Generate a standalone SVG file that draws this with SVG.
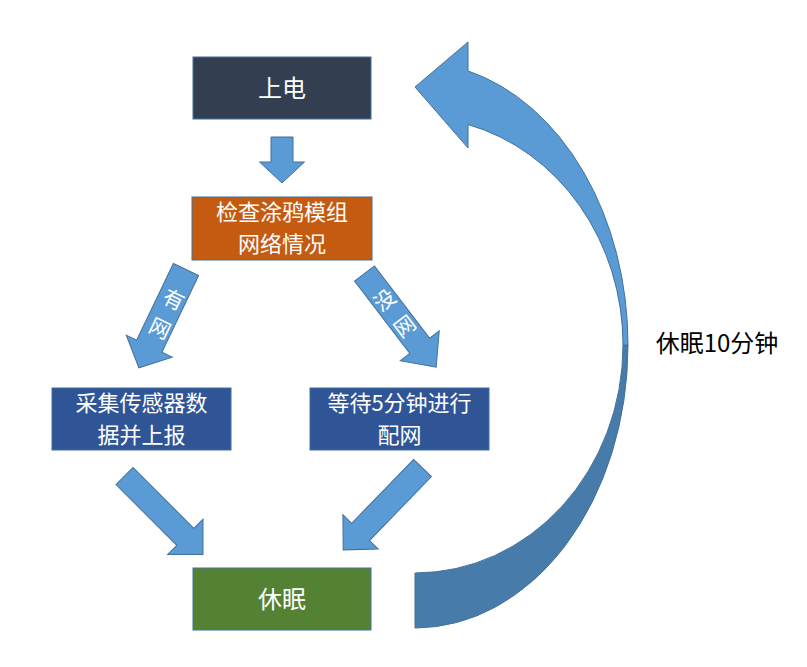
<svg xmlns="http://www.w3.org/2000/svg" width="807" height="667" viewBox="0 0 807 667">
<defs>
<style>
.box{stroke:#41719C;stroke-width:1}
.arr{fill:#5B9BD5;stroke:#41719C;stroke-width:1;stroke-linejoin:miter}
.wt{fill:#ffffff;font-family:"Noto Sans CJK SC","Noto Sans",sans-serif;font-size:24px;text-anchor:middle}
.wt2{fill:#ffffff;font-family:"Noto Sans CJK SC","Noto Sans",sans-serif;font-size:22px;text-anchor:middle}
.lbl{fill:#ffffff;font-family:"Noto Sans CJK SC","Noto Sans",sans-serif;font-size:21px;text-anchor:middle}
.bt{fill:#000000;font-family:"Noto Sans CJK SC","Noto Sans",sans-serif;font-size:24px;text-anchor:middle}
</style>
</defs>
<rect width="807" height="667" fill="#ffffff"/>
<g id="connectors">
<path class="arr" d="M271 137 L293 137 L293 162 L304.5 162 L282 183 L259.5 162 L271 162 Z"/>
<g transform="translate(186,269.5) rotate(25.6)">
<path class="arr" d="M-14 0 L14 0 L14 85 L25.5 85 L0 109 L-25.5 85 L-14 85 Z"/>
<text class="lbl" x="2" y="40">有<tspan x="2" dy="32">网</tspan></text>
</g>
<g transform="translate(364.5,273.5) rotate(-37.4)">
<path class="arr" d="M-12.5 0 L12.5 0 L12.5 91 L24.5 91 L0 118 L-24.5 91 L-12.5 91 Z"/>
<text class="lbl" x="0" y="41">没<tspan x="0" dy="33">网</tspan></text>
</g>
<g transform="translate(124.5,476) rotate(-45)">
<path class="arr" d="M-12 0 L12 0 L12 86 L25 86 L0 111 L-25 86 L-12 86 Z"/>
</g>
<g transform="translate(422.5,468) rotate(44.1)">
<path class="arr" d="M-12.4 0 L12.4 0 L12.4 89 L24.6 89 L0 114 L-24.6 89 L-12.4 89 Z"/>
</g>
<g id="loop">
<path d="M628 345 A213 283 0 0 1 415 628 L415 573 A208 228 0 0 0 623 345 Z" fill="#467BAA" stroke="#41719C" stroke-width="1"/>
<path d="M628 345 A213 283 0 0 0 468 70.9 L468 42 L415 87 L468 148 L468 124.5 A208 228 0 0 1 623 345 Z" fill="#5B9BD5" stroke="#41719C" stroke-width="1"/>
</g>
</g>
<g id="power">
<rect class="box" x="193" y="57" width="178" height="62" fill="#333F50"/>
<text class="wt" x="282" y="97">上电</text>
</g>
<g id="check">
<rect class="box" x="192" y="197" width="180" height="63" fill="#C55A11"/>
<text class="wt2" x="282" y="220">检查涂鸦模组<tspan x="282" dy="32">网络情况</tspan></text>
</g>
<g id="collect">
<rect class="box" x="52" y="388" width="179" height="62" fill="#2F5597"/>
<text class="wt2" x="141.5" y="411">采集传感器数<tspan x="141.5" dy="32">据并上报</tspan></text>
</g>
<g id="wait">
<rect class="box" x="310" y="388" width="179" height="62" fill="#2F5597"/>
<text class="wt2" x="399.5" y="411">等待5分钟进行<tspan x="399.5" dy="32">配网</tspan></text>
</g>
<g id="sleep">
<rect class="box" x="193" y="568" width="178" height="62" fill="#548235"/>
<text class="wt" x="282" y="608">休眠</text>
</g>
<g id="sleep-label">
<text class="bt" x="717" y="352">休眠10分钟</text>
</g>
</svg>
